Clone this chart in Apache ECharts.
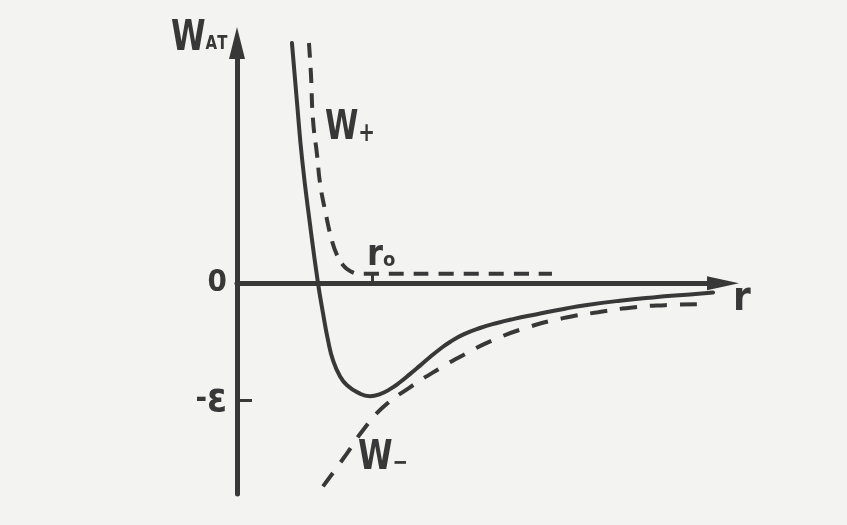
<!DOCTYPE html>
<html><head><meta charset="utf-8">
<script src="https://cdn.jsdelivr.net/npm/echarts@6/dist/echarts.min.js"></script>
<style>html,body{margin:0;padding:0;background:#f2f2f0;}#c{width:847px;height:525px;}</style>
</head><body><div id="c"></div>
<script>
// r in units of r0, W in units of epsilon
const curveW = [[0.407,2.05],[0.444,1.55],[0.483,1.05],[0.541,0.50],[0.600,0],[0.637,-0.256],[0.674,-0.487],[0.711,-0.658],[0.763,-0.795],[0.815,-0.872],[0.896,-0.935],[0.985,-0.965],[1.059,-0.948],[1.133,-0.905],[1.207,-0.846],[1.281,-0.777],[1.356,-0.704],[1.430,-0.631],[1.504,-0.562],[1.578,-0.502],[1.674,-0.440],[1.800,-0.383],[1.926,-0.340],[2.044,-0.307],[2.222,-0.265],[2.430,-0.218],[2.593,-0.186],[2.837,-0.150],[3.081,-0.122],[3.356,-0.096],[3.526,-0.080]];
const curveWplus = [[0.533,2.05],[0.548,1.778],[0.563,1.393],[0.593,1.094],[0.615,0.855],[0.652,0.624],[0.704,0.359],[0.741,0.239],[0.785,0.154],[0.837,0.103],[0.911,0.08],[1.578,0.08],[2.333,0.08]];
const curveWminus = [[0.637,-1.735],[0.815,-1.453],[0.933,-1.256],[1.081,-1.060],[1.281,-0.889],[1.504,-0.726],[1.674,-0.615],[1.896,-0.487],[2.156,-0.376],[2.415,-0.299],[2.674,-0.248],[2.948,-0.205],[3.170,-0.188],[3.430,-0.179]];
const yTickValues = [0, -1];
const yTickLabels = ['{n|0}', '{n|-}{e|ε}'];
const xTickValues = [1];

const INK = '#383838';
const FF = "'Liberation Sans Narrow','DejaVu Sans Condensed','Liberation Sans',sans-serif";
const chart = echarts.init(document.getElementById('c'), null, {renderer:'canvas'});
const lineBase = {type:'line', showSymbol:false, smooth:0.5, silent:true, animation:false};
const sub = (size, pb) => ({fontFamily:FF, fontWeight:'bold', fontSize:size, fill:INK, verticalAlign:'bottom', padding:[0,0,pb,0]});
const big = (size) => ({fontFamily:FF, fontWeight:'bold', fontSize:size, fill:INK});
chart.setOption({
  backgroundColor:'#f3f3f1',
  animation:false,
  grid:{left:237, right:124, top:43, bottom:31},
  xAxis:{type:'value', min:0, max:3.6,
    axisLine:{show:true, onZero:true, symbol:['none','triangle'], symbolSize:[14,32], lineStyle:{color:INK, width:5}},
    axisTick:{show:true, inside:true, length:11, customValues:xTickValues, lineStyle:{color:INK, width:3}},
    axisLabel:{show:false},
    splitLine:{show:false},
    name:'r', nameLocation:'end', nameGap:10,
    nameTextStyle:{fontFamily:FF, fontWeight:'bold', fontSize:40, color:INK, verticalAlign:'top', padding:[-4,0,0,0]}
  },
  yAxis:{type:'value', min:-1.8, max:2.05,
    axisLine:{show:true, symbol:['none','triangle'], symbolSize:[16,32], lineStyle:{color:INK, width:5}},
    axisTick:{show:true, inside:true, length:15, customValues:[-1], lineStyle:{color:INK, width:3}},
    axisLabel:{show:true, margin:10, customValues:yTickValues,
      formatter:(v)=>yTickLabels[yTickValues.indexOf(v)] || '',
      rich:{n:{fontFamily:FF, fontWeight:'bold', fontSize:31, color:INK}, e:{fontFamily:FF, fontWeight:'bold', fontSize:40, color:INK}}},
    splitLine:{show:false}
  },
  series:[
    Object.assign({}, lineBase, {name:'W', data:curveW, lineStyle:{color:INK, width:4, cap:'round'}}),
    Object.assign({}, lineBase, {name:'W+', data:curveWplus, lineStyle:{color:INK, width:4, type:[15,10]}}),
    Object.assign({}, lineBase, {name:'W-', data:curveWminus, lineStyle:{color:INK, width:4, type:[17,13]}})
  ],
  graphic:[
    {type:'text', x:171, y:18, scaleX:0.83, silent:true, style:{text:'{w|W}{s|АТ}', rich:{w:big(42), s:sub(20,6)}}},
    {type:'text', x:325, y:108, scaleX:0.82, silent:true, style:{text:'{w|W}{s|+}', rich:{w:big(41), s:sub(27,2)}}},
    {type:'text', x:358, y:438, scaleX:0.85, silent:true, style:{text:'{w|W}{s|−}', rich:{w:big(41), s:sub(24,3)}}},
    {type:'text', x:367, y:238, silent:true, style:{text:'{r|r}{s|o}', rich:{r:big(36), s:sub(20,3)}}}
  ]
});
</script></body></html>
